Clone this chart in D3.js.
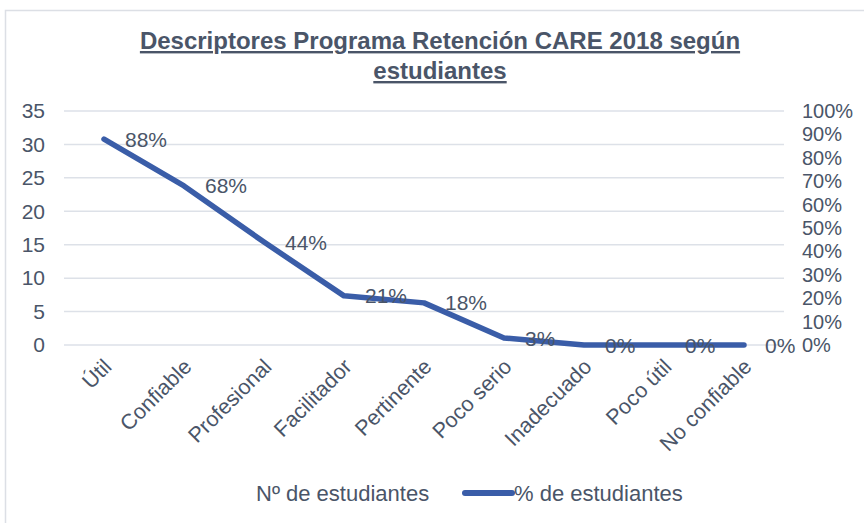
<!DOCTYPE html>
<html>
<head>
<meta charset="utf-8">
<script src="https://cdn.jsdelivr.net/npm/d3@7"></script>
<style>
  body { margin: 0; background: #fff; }
  text { font-family: "Liberation Sans", Arial, sans-serif; }
</style>
</head>
<body>
<div id="chart"></div>
<script>
// Data
const categories = ["Útil", "Confiable", "Profesional", "Facilitador", "Pertinente", "Poco serio", "Inadecuado", "Poco útil", "No confiable"];
const nEstudiantes = [31, 24, 15, 7, 6, 1, 0, 0, 0];
const pctEstudiantes = [0.88, 0.68, 0.44, 0.21, 0.18, 0.03, 0, 0, 0];
const leftTicks = [0, 5, 10, 15, 20, 25, 30, 35];
const rightTicks = [0, 0.1, 0.2, 0.3, 0.4, 0.5, 0.6, 0.7, 0.8, 0.9, 1];

const width = 864;
const height = 523;
const margin = { top: 111, right: 80, bottom: 178, left: 64 };
const textColor = "#4a5568";
const lineColor = "#3a5da8";

const svg = d3.select("#chart")
    .append("svg")
    .attr("width", width)
    .attr("height", height);

// chart border
svg.append("rect")
    .attr("x", 5.5).attr("y", 10.5)
    .attr("width", width + 10).attr("height", height)
    .attr("fill", "none")
    .attr("stroke", "#dcdfe5")
    .attr("stroke-width", 1.5);

const x = d3.scaleBand()
    .domain(categories)
    .range([margin.left, width - margin.right]);

const yLeft = d3.scaleLinear()
    .domain([0, 35])
    .range([height - margin.bottom, margin.top]);

const yRight = d3.scaleLinear()
    .domain([0, 1])
    .range([height - margin.bottom, margin.top]);

// gridlines
svg.append("g")
    .selectAll("line")
    .data(leftTicks)
    .enter()
    .append("line")
    .attr("x1", margin.left)
    .attr("x2", width - margin.right)
    .attr("y1", d => yLeft(d))
    .attr("y2", d => yLeft(d))
    .attr("stroke", "#dde1e8")
    .attr("stroke-width", 1.5);

// left axis
const leftAxis = svg.append("g")
    .attr("transform", `translate(${margin.left}, 0)`)
    .call(d3.axisLeft(yLeft).tickValues(leftTicks).tickSize(0).tickPadding(19));
leftAxis.select(".domain").remove();
leftAxis.selectAll("text")
    .attr("font-size", 21)
    .attr("fill", textColor);

// right axis
const rightAxis = svg.append("g")
    .attr("transform", `translate(${width - margin.right}, 0)`)
    .call(d3.axisRight(yRight).tickValues(rightTicks).tickFormat(d3.format(".0%")).tickSize(0).tickPadding(18));
rightAxis.select(".domain").remove();
rightAxis.selectAll("text")
    .attr("font-size", 20)
    .attr("fill", textColor);

// category axis
const xAxis = svg.append("g")
    .attr("transform", `translate(0, ${height - margin.bottom})`)
    .call(d3.axisBottom(x).tickSize(0).tickPadding(0));
xAxis.select(".domain").remove();
xAxis.selectAll("text")
    .attr("font-size", 21.5)
    .attr("fill", textColor)
    .attr("text-anchor", "end")
    .attr("dy", 0)
    .attr("transform", "translate(9, 23) rotate(-45)");

// Nº de estudiantes bars (no fill in the original)
svg.append("g")
    .selectAll("rect")
    .data(nEstudiantes)
    .enter()
    .append("rect")
    .attr("x", (d, i) => x(categories[i]) + x.bandwidth() * 0.25)
    .attr("width", x.bandwidth() * 0.5)
    .attr("y", d => yLeft(d))
    .attr("height", d => yLeft(0) - yLeft(d))
    .attr("fill", "none");

// % de estudiantes line
const line = d3.line()
    .x((d, i) => x(categories[i]) + x.bandwidth() / 2)
    .y(d => yRight(d));

svg.append("path")
    .datum(pctEstudiantes)
    .attr("d", line)
    .attr("fill", "none")
    .attr("stroke", lineColor)
    .attr("stroke-width", 5.5)
    .attr("stroke-linecap", "round")
    .attr("stroke-linejoin", "round");

// data labels
svg.append("g")
    .selectAll("text")
    .data(pctEstudiantes)
    .enter()
    .append("text")
    .attr("x", (d, i) => x(categories[i]) + x.bandwidth() / 2 + 21)
    .attr("y", d => yRight(d))
    .attr("dy", "0.36em")
    .attr("font-size", 21)
    .attr("fill", textColor)
    .text(d => d3.format(".0%")(d));

// title
const title = svg.append("text")
    .attr("x", 440)
    .attr("text-anchor", "middle")
    .attr("font-size", 24)
    .attr("font-weight", "bold")
    .attr("fill", textColor)
    .attr("text-decoration", "underline");
title.append("tspan").attr("x", 440).attr("y", 49).text("Descriptores Programa Retención CARE 2018 según");
title.append("tspan").attr("x", 440).attr("y", 79).text("estudiantes");

// legend
const legend = svg.append("g").attr("font-size", 22).attr("fill", textColor);
legend.append("text")
    .attr("x", 256).attr("y", 501)
    .text("Nº de estudiantes");
legend.append("line")
    .attr("x1", 465).attr("x2", 512)
    .attr("y1", 493).attr("y2", 493)
    .attr("stroke", lineColor)
    .attr("stroke-width", 6)
    .attr("stroke-linecap", "round");
legend.append("text")
    .attr("x", 514).attr("y", 501)
    .text("% de estudiantes");
</script>
</body>
</html>
